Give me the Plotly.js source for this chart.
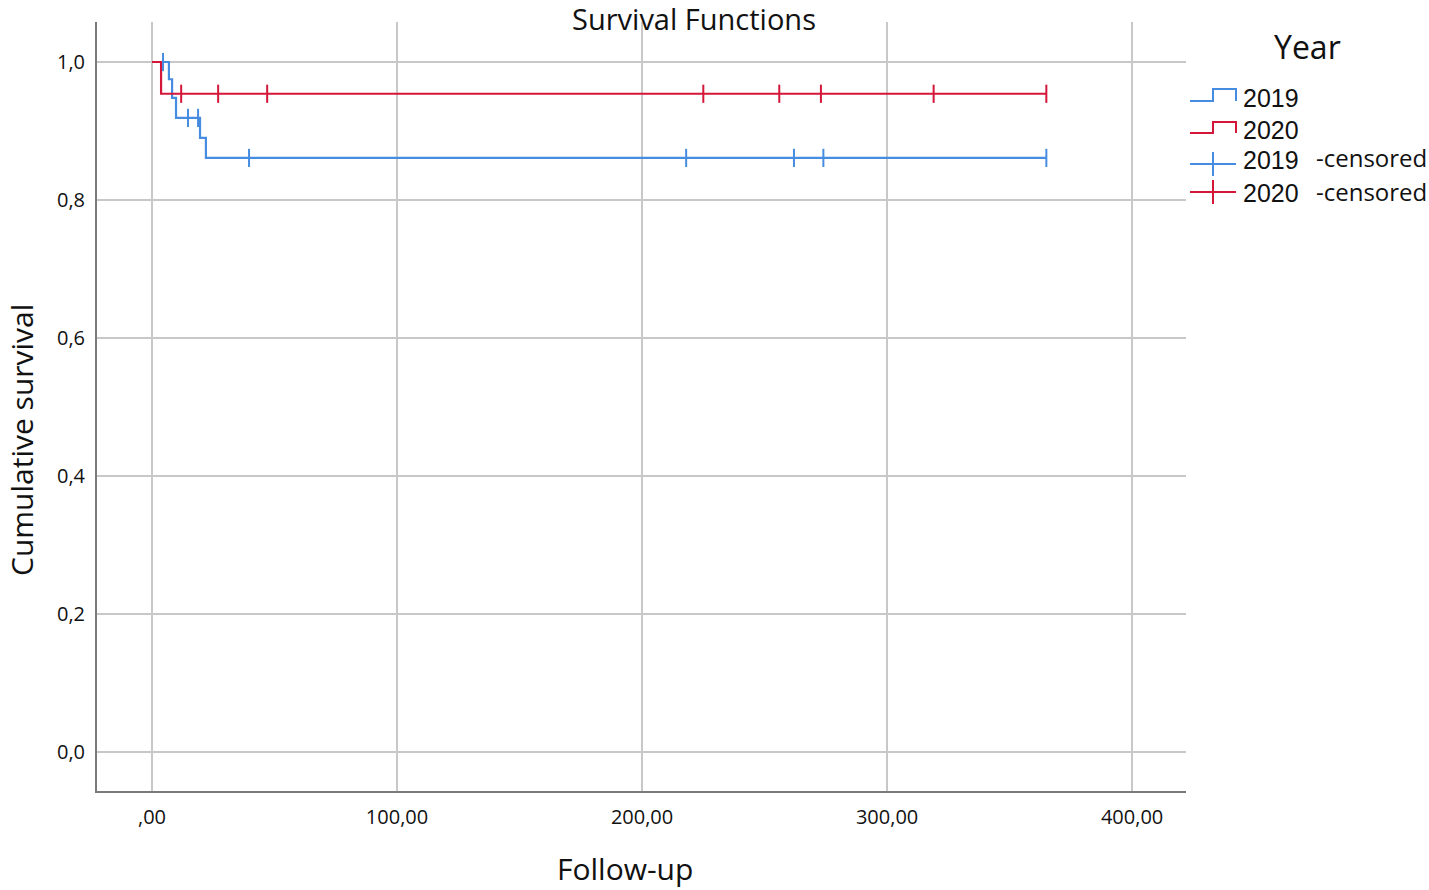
<!DOCTYPE html>
<html>
<head>
<meta charset="utf-8">
<script src="https://cdn.plot.ly/plotly-3.0.1.min.js"></script>
<style>
  html, body { margin: 0; padding: 0; background: #fff; }
  #myPlot { width: 1429px; height: 890px; }
</style>
</head>
<body>
<div id="myPlot"></div>
<script>
// Kaplan-Meier steps
const time2019 = [0, 6.9, 8.2, 9.8, 19.6, 22, 365];
const surv2019 = [1.0, 0.975, 0.948, 0.919, 0.890, 0.861, 0.861];
const time2020 = [0, 3.7, 365];
const surv2020 = [1.0, 0.954, 0.954];

// censored observations
const cens2019T = [4.5, 14.7, 18.8, 39.6, 218, 262, 274, 365];
const cens2019S = [1.0, 0.919, 0.919, 0.861, 0.861, 0.861, 0.861, 0.861];
const cens2020T = [11.9, 27, 47, 225, 256, 273, 319, 365];
const cens2020S = [0.954, 0.954, 0.954, 0.954, 0.954, 0.954, 0.954, 0.954];

const xTickVals = [0, 100, 200, 300, 400];
const xTickText = [",00", "100,00", "200,00", "300,00", "400,00"];
const yTickVals = [0, 0.2, 0.4, 0.6, 0.8, 1.0];
const yTickText = ["0,0", "0,2", "0,4", "0,6", "0,8", "1,0"];

const blue = "rgb(70,140,224)";
const red = "rgb(212,22,56)";
const font = "Open Sans, Noto Sans, sans-serif";
const narrow = "Liberation Sans Narrow, Liberation Sans, sans-serif";

const line2019 = {
  x: time2019, y: surv2019, mode: "lines",
  line: { color: blue, width: 2.2, shape: "hv" },
  showlegend: false, hoverinfo: "skip"
};
const line2020 = {
  x: time2020, y: surv2020, mode: "lines",
  line: { color: red, width: 2.2, shape: "hv" },
  showlegend: false, hoverinfo: "skip"
};
const marks2019 = {
  x: cens2019T, y: cens2019S, mode: "markers",
  marker: { symbol: "line-ns", size: 13, line: { color: blue, width: 2 } },
  showlegend: false
};
const marks2020 = {
  x: cens2020T, y: cens2020S, mode: "markers",
  marker: { symbol: "line-ns", size: 13, line: { color: red, width: 2 } },
  showlegend: false
};

// plot area in pixels, for placing the hand-drawn legend and titles
const L = 97, R = 1186, T = 22, B = 791;
function px(x) { return (x - L) / (R - L); }
function py(y) { return (B - y) / (B - T); }
function path(pts) {
  return pts.map((p, i) => (i ? "L" : "M") + px(p[0]) + "," + py(p[1])).join(" ");
}

const shapes = [
  { type: "path", xref: "paper", yref: "paper", line: { color: blue, width: 2 },
    path: path([[1190, 101], [1213, 101], [1213, 89], [1236, 89], [1236, 101]]) },
  { type: "path", xref: "paper", yref: "paper", line: { color: red, width: 2 },
    path: path([[1190, 133], [1213, 133], [1213, 122], [1236, 122], [1236, 133]]) },
  { type: "path", xref: "paper", yref: "paper", line: { color: blue, width: 2 },
    path: path([[1190, 164], [1236, 164]]) },
  { type: "path", xref: "paper", yref: "paper", line: { color: blue, width: 2 },
    path: path([[1213, 152], [1213, 176]]) },
  { type: "path", xref: "paper", yref: "paper", line: { color: red, width: 2 },
    path: path([[1190, 192], [1236, 192]]) },
  { type: "path", xref: "paper", yref: "paper", line: { color: red, width: 2 },
    path: path([[1213, 180], [1213, 204]]) }
];

function label(text, x, y, size, anchor, fam, angle) {
  return {
    text: text, xref: "paper", yref: "paper", x: px(x), y: py(y),
    xanchor: anchor, yanchor: "middle", showarrow: false, textangle: angle || 0,
    font: { family: fam || font, size: size, color: "#111" }
  };
}
const annotations = [
  label("Year", 1307, 46, 32, "center"),
  label("2019", 1241, 98, 25, "left", narrow),
  label("2020", 1241, 130, 25, "left", narrow),
  label("2019", 1241, 160, 25, "left", narrow),
  label("2020", 1241, 193, 25, "left", narrow),
  label("-censored", 1314, 157, 24, "left"),
  label("-censored", 1314, 191, 24, "left"),
  label("Follow-up", 625, 868, 30, "center"),
  label("Cumulative survival", 21, 440, 30, "center", font, -90)
];

const layout = {
  width: 1429, height: 890,
  margin: { l: L, r: 1429 - R, t: T, b: 890 - B },
  paper_bgcolor: "#fff", plot_bgcolor: "#fff",
  title: {
    text: "Survival Functions", x: 694 / 1429, xanchor: "center",
    y: 1 - 20 / 890, yanchor: "middle",
    font: { family: font, size: 29, color: "#111" }
  },
  xaxis: {
    range: [-22.45, 422], tickvals: xTickVals, ticktext: xTickText,
    showgrid: true, gridcolor: "#c8c8c8", gridwidth: 2,
    showline: true, linecolor: "#7a7a7a", linewidth: 2,
    zeroline: false, ticks: "outside", ticklen: 7, tickcolor: "rgba(0,0,0,0)",
    tickfont: { family: font, size: 20, color: "#111" }
  },
  yaxis: {
    range: [-0.0565, 1.058], tickvals: yTickVals, ticktext: yTickText,
    showgrid: true, gridcolor: "#c8c8c8", gridwidth: 2,
    showline: true, linecolor: "#7a7a7a", linewidth: 2,
    zeroline: false, ticks: "outside", ticklen: 6, tickcolor: "rgba(0,0,0,0)",
    tickfont: { family: font, size: 20, color: "#111" }
  },
  shapes: shapes,
  annotations: annotations,
  showlegend: false
};

var data = [line2019, line2020, marks2019, marks2020];
Plotly.newPlot("myPlot", data, layout, { displayModeBar: false, staticPlot: true });
</script>
</body>
</html>
